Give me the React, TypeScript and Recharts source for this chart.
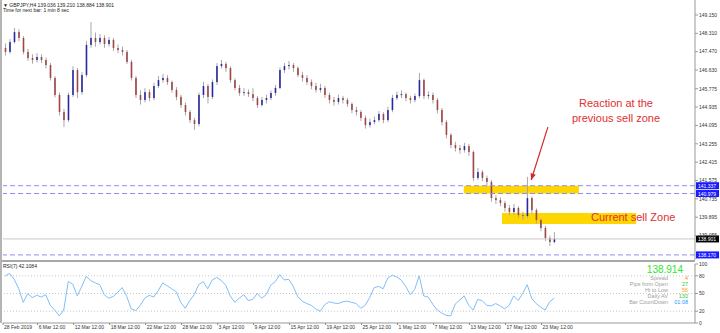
import React from "react";
import {
  ComposedChart,
  LineChart,
  Bar,
  Line,
  XAxis,
  YAxis,
  ReferenceLine,
  ReferenceArea,
} from "recharts";

// GBPJPY, drawn as 12h candles (each one = 3 of the H4 bars)
const opens = [
  147.64, 147.46, 147.91, 148.37, 148.10, 147.46, 147.18, 147.09, 147.23, 147.09,
  146.86, 146.27, 145.49, 144.71, 144.34, 145.49, 146.63, 145.62, 146.40, 147.78,
  148.10, 147.91, 148.10, 147.82, 148.01, 147.64, 147.55, 147.46, 147.00, 146.27,
  145.49, 145.26, 145.62, 145.35, 145.90, 146.17, 146.27, 146.08, 145.72, 145.40,
  145.03, 144.71, 144.34, 144.16, 145.49, 145.90, 145.40, 146.08, 146.81, 146.91,
  146.72, 146.17, 145.81, 145.58, 145.62, 145.53, 145.35, 145.03, 145.26, 145.35,
  145.58, 145.81, 146.63, 146.81, 146.86, 146.72, 146.40, 146.27, 146.08, 145.90,
  145.72, 145.81, 145.49, 145.26, 145.17, 145.35, 145.26, 145.08, 144.80, 144.71,
  144.44, 144.11, 144.25, 144.34, 144.62, 144.34, 144.80, 145.35, 145.49, 145.53,
  145.35, 145.26, 145.44, 146.17, 145.44, 145.49, 145.26, 144.80, 144.25, 143.66,
  143.20, 143.06, 142.97, 143.15, 142.88, 141.69, 141.96, 141.69, 141.51, 140.77,
  140.68, 140.54, 140.32, 140.13, 140.32, 139.99, 139.95, 140.77, 140.22, 139.77,
  139.40, 138.94, 138.76,
];
const highs = [
  147.85, 148.05, 148.55, 148.50, 148.18, 147.60, 147.35, 147.40, 147.35, 147.20,
  146.95, 146.35, 145.60, 144.85, 145.60, 146.80, 146.72, 146.55, 147.95, 148.83,
  148.35, 148.28, 148.22, 148.15, 148.10, 147.80, 147.70, 147.55, 147.10, 146.35,
  145.70, 145.80, 145.75, 146.05, 146.35, 146.45, 146.40, 146.15, 145.85, 145.50,
  145.15, 144.80, 144.45, 145.60, 146.10, 146.00, 146.20, 146.95, 147.10, 147.00,
  146.80, 146.25, 145.95, 145.80, 145.75, 145.80, 145.45, 145.40, 145.50, 145.70,
  145.95, 146.75, 146.95, 147.05, 146.95, 146.80, 146.55, 146.40, 146.20, 146.05,
  146.00, 145.90, 145.60, 145.40, 145.50, 145.45, 145.35, 145.15, 144.95, 144.80,
  144.55, 144.40, 144.50, 144.75, 144.70, 144.95, 145.50, 145.65, 145.70, 145.60,
  145.45, 145.55, 146.50, 146.25, 145.65, 145.60, 145.35, 144.90, 144.35, 143.75,
  143.35, 143.20, 143.30, 143.25, 142.95, 142.15, 142.05, 141.80, 141.60, 140.90,
  140.80, 140.65, 140.45, 140.50, 140.40, 140.15, 141.74, 140.85, 140.30, 139.85,
  139.50, 139.05, 139.21,
];
const lows = [
  147.30, 147.38, 147.85, 147.95, 147.35, 147.05, 146.92, 146.98, 146.95, 146.70,
  146.15, 145.38, 144.55, 144.02, 144.25, 145.40, 145.35, 145.50, 146.30, 147.65,
  147.70, 147.80, 147.65, 147.70, 147.50, 147.40, 147.30, 146.90, 146.15, 145.35,
  145.05, 145.15, 145.20, 145.25, 145.80, 146.05, 145.95, 145.60, 145.25, 144.90,
  144.55, 144.20, 143.89, 144.05, 145.35, 145.10, 145.30, 145.95, 146.70, 146.55,
  146.05, 145.70, 145.45, 145.45, 145.40, 145.20, 144.90, 144.95, 145.10, 145.25,
  145.45, 145.75, 146.50, 146.65, 146.55, 146.30, 146.10, 145.95, 145.75, 145.60,
  145.60, 145.35, 145.10, 145.00, 145.05, 145.10, 144.95, 144.65, 144.55, 144.30,
  143.95, 144.00, 144.15, 144.25, 144.20, 144.25, 144.70, 145.25, 145.35, 145.20,
  145.10, 145.15, 145.35, 145.30, 145.30, 145.10, 144.65, 144.10, 143.50, 143.05,
  142.90, 142.80, 142.85, 142.70, 141.55, 141.60, 141.55, 141.35, 140.60, 140.50,
  140.40, 140.15, 139.98, 140.00, 139.85, 139.77, 139.85, 140.05, 139.60, 139.25,
  138.80, 138.58, 138.70,
];
const closes = [
  147.46, 147.91, 148.37, 148.10, 147.46, 147.18, 147.09, 147.23, 147.09, 146.86,
  146.27, 145.49, 144.71, 144.34, 145.49, 146.63, 145.62, 146.40, 147.78, 148.10,
  147.91, 148.10, 147.82, 148.01, 147.64, 147.55, 147.46, 147.00, 146.27, 145.49,
  145.26, 145.62, 145.35, 145.90, 146.17, 146.27, 146.08, 145.72, 145.40, 145.03,
  144.71, 144.34, 144.16, 145.49, 145.90, 145.40, 146.08, 146.81, 146.91, 146.72,
  146.17, 145.81, 145.58, 145.62, 145.53, 145.35, 145.03, 145.26, 145.35, 145.58,
  145.81, 146.63, 146.81, 146.86, 146.72, 146.40, 146.27, 146.08, 145.90, 145.72,
  145.81, 145.49, 145.26, 145.17, 145.35, 145.26, 145.08, 144.80, 144.71, 144.44,
  144.11, 144.25, 144.34, 144.62, 144.34, 144.80, 145.35, 145.49, 145.53, 145.35,
  145.26, 145.44, 146.17, 145.44, 145.49, 145.26, 144.80, 144.25, 143.66, 143.20,
  143.06, 142.97, 143.15, 142.88, 141.69, 141.96, 141.69, 141.51, 140.77, 140.68,
  140.54, 140.32, 140.13, 140.32, 139.99, 139.95, 140.77, 140.22, 139.77, 139.40,
  138.94, 138.76, 138.90,
];
const rsi = [
  80, 84, 74, 58, 35, 50, 43, 47, 44, 48,
  30, 22, 12, 22, 70, 66, 46, 62, 79, 72,
  68, 65, 48, 42, 45, 52, 60, 45, 24, 21,
  30, 42, 47, 44, 55, 68, 63, 58, 53, 35,
  25, 38, 48, 65, 70, 58, 73, 77, 72, 64,
  46, 35, 42, 48, 38, 40, 50, 42, 48, 64,
  70, 82, 73, 74, 62, 45, 37, 33, 30, 24,
  20, 31, 36, 34, 33, 36, 37, 35, 33, 25,
  30, 43, 60, 62, 58, 76, 81, 78, 73, 62,
  48, 57, 80, 46, 44, 32, 22, 17, 13, 12,
  32, 39, 46, 30, 22, 40, 38, 30, 29, 33,
  29, 24, 30, 46, 38, 50, 65, 42, 33, 27,
  22, 36, 42.1,
];

const priceTicks = [
  149.15, 148.31, 147.47, 146.63, 145.775, 144.935, 144.095, 143.255, 142.415,
  141.575, 140.735, 139.895, 139.055,
];
const timeTicks = [-0.5, 7.2, 15.2, 23.2, 31.2, 39.2, 47.2, 55.2, 63.2, 71.2, 79.2, 87.2, 95.2, 103.2, 111.2, 119.2];
const timeLabels = [
  "28 Feb 2019", "6 Mar 12:00", "12 Mar 12:00", "18 Mar 12:00", "22 Mar 12:00",
  "28 Mar 12:00", "3 Apr 12:00", "9 Apr 12:00", "15 Apr 12:00", "19 Apr 12:00",
  "25 Apr 12:00", "1 May 12:00", "7 May 12:00", "13 May 12:00", "17 May 12:00",
  "23 May 12:00",
];
const rsiTicks = [0, 20, 50, 80, 100];
const rsiLevels = [80, 50, 20];

const levels = [141.337, 140.979, 138.17];
const bid = 138.901;
const oldZone = { x1: 101.9, x2: 127.5, y1: 140.979, y2: 141.337 };
const newZone = { x1: 110.4, x2: 140.2, y1: 139.58, y2: 140.09 };
const arrowFrom = { x: 120.6, y: 144.02 };
const arrowTo = { x: 116.9, y: 141.6 };

const X_DOMAIN: [number, number] = [-0.5, 153.3];
const FONT = "'Liberation Sans', Arial, sans-serif";
const WICK = "#a8a8a8";
const BULL = "#2a2aa0";
const BEAR = "#a04646";
const RED = "#e03030";

const rows = closes.map((c, i) => ({
  t: i,
  open: opens[i],
  high: highs[i],
  low: lows[i],
  close: c,
  range: [lows[i], highs[i]],
  rsi: rsi[i],
}));

const Candle = (props: any) => {
  const { x, y, width, height, payload } = props;
  if (x == null || !payload) return null;
  const top = Math.min(y, y + height);
  const h = Math.abs(height);
  const span = payload.high - payload.low;
  const k = span > 0 ? h / span : 0;
  const cx = x + width / 2;
  const bTop = top + (payload.high - Math.max(payload.open, payload.close)) * k;
  const bBot = top + (payload.high - Math.min(payload.open, payload.close)) * k;
  const up = payload.close >= payload.open;
  return (
    <g>
      <line x1={cx} x2={cx} y1={top} y2={top + h} stroke={WICK} strokeWidth={1} />
      <rect x={cx - 0.8} y={bTop} width={1.6} height={Math.max(1, bBot - bTop)} fill={up ? BULL : BEAR} />
    </g>
  );
};

const PriceTag = ({ viewBox, text, bg }: any) => {
  if (!viewBox) return null;
  const x = viewBox.x + viewBox.width + 1;
  const y = viewBox.y;
  return (
    <g>
      <rect x={x} y={y - 3.5} width={23} height={7} fill={bg} />
      <text x={x + 2} y={y + 2} fontSize={5} fill="#fff" fontFamily={FONT}>
        {text}
      </text>
    </g>
  );
};

const Arrow = (p: any) => {
  const { x1, y1, x2, y2 } = p;
  if (x1 == null) return null;
  const a = Math.atan2(y2 - y1, x2 - x1);
  const L = 7;
  const w = 0.4;
  const pa = `${x2},${y2} ${x2 - L * Math.cos(a - w)},${y2 - L * Math.sin(a - w)} ${x2 - L * Math.cos(a + w)},${y2 - L * Math.sin(a + w)}`;
  return (
    <g>
      <line x1={x1} y1={y1} x2={x2} y2={y2} stroke="#d02a2a" strokeWidth={1.2} />
      <polygon points={pa} fill="#d02a2a" />
    </g>
  );
};

// the RSI chart is 71px tall with its axis line at 61px
const TimeTick = (p: any) => {
  const i = timeTicks.indexOf(p.payload.value);
  return (
    <g>
      <line x1={p.x} x2={p.x} y1={61} y2={63} stroke="#888" />
      <text x={p.x + 1} y={67} fontSize={5} fill="#333" fontFamily={FONT}>
        {timeLabels[i]}
      </text>
    </g>
  );
};

const axisTick = { fontSize: 5, fill: "#333", fontFamily: FONT };

export default function App() {
  return (
    <div style={{ position: "absolute", left: 0, top: 0, width: 720, height: 333, background: "#fff", overflow: "hidden" }}>
      <div style={{ position: "absolute", left: 0, top: 0 }}>
        <ComposedChart width={720} height={260} data={rows} margin={{ top: 0, right: 0, bottom: 0, left: 3 }}>
          <XAxis type="number" dataKey="t" domain={X_DOMAIN} allowDataOverflow hide />
          <YAxis
            orientation="right"
            width={25}
            domain={[137.937, 149.836]}
            allowDataOverflow
            ticks={priceTicks}
            tickFormatter={(v: number) => v.toFixed(3)}
            tick={axisTick}
            tickSize={3}
            tickMargin={1}
            axisLine={{ stroke: "#999" }}
            tickLine={{ stroke: "#999" }}
            interval={0}
          />
          <ReferenceArea {...oldZone} fill="#ffd700" fillOpacity={1} stroke="none" ifOverflow="visible" />
          <ReferenceArea {...newZone} fill="#ffd700" fillOpacity={1} stroke="none" ifOverflow="visible" />
          <ReferenceLine y={bid} stroke="#c8c8c8" label={<PriceTag text={bid.toFixed(3)} bg="#000" />} />
          {levels.map((v) => (
            <ReferenceLine
              key={v}
              y={v}
              stroke="#8c8cff"
              strokeDasharray="5 3"
              label={<PriceTag text={v.toFixed(3)} bg="#1a1aff" />}
            />
          ))}
          <Bar dataKey="range" shape={<Candle />} barSize={3} isAnimationActive={false} />
          <ReferenceLine segment={[arrowFrom, arrowTo]} ifOverflow="visible" shape={(p: any) => <Arrow {...p} />} />
        </ComposedChart>
      </div>
      <div style={{ position: "absolute", left: 0, top: 260, width: 695, height: 2, background: "#a8a8a8" }} />
      <div style={{ position: "absolute", left: 0, top: 262 }}>
        <LineChart width={720} height={71} data={rows} margin={{ top: 2, right: 0, bottom: 0, left: 3 }}>
          <XAxis
            type="number"
            dataKey="t"
            domain={X_DOMAIN}
            allowDataOverflow
            ticks={timeTicks}
            interval={0}
            height={10}
            tick={(p: any) => <TimeTick {...p} />}
            tickLine={false}
            axisLine={{ stroke: "#999" }}
          />
          <YAxis
            orientation="right"
            width={25}
            domain={[0, 100]}
            ticks={rsiTicks}
            interval={0}
            tick={axisTick}
            tickSize={3}
            tickMargin={1}
            axisLine={{ stroke: "#999" }}
            tickLine={{ stroke: "#999" }}
          />
          {rsiLevels.map((v) => (
            <ReferenceLine key={v} y={v} stroke="#c8c8c8" strokeDasharray="1 2" />
          ))}
          <Line type="linear" dataKey="rsi" stroke="#80bdf7" strokeWidth={1} dot={false} isAnimationActive={false} />
        </LineChart>
      </div>
      <div style={{ position: "absolute", left: 0, top: 0, width: 2, height: 323, background: "#b4b4b4" }} />
      <svg width={720} height={333} style={{ position: "absolute", left: 0, top: 0, pointerEvents: "none" }} fontFamily={FONT}>
        <text x={3} y={7} fontSize={5} fill="#222">▼ GBPJPY,H4  139.036 139.210 138.884 138.901</text>
        <text x={3} y={12} fontSize={5} fill="#222">Time for next bar: 1 min 8 sec</text>
        <text x={616} y={106.5} fontSize={11} fill={RED} textAnchor="middle">Reaction at the</text>
        <text x={616} y={121.5} fontSize={11} fill={RED} textAnchor="middle">previous sell zone</text>
        <text x={591} y={221} fontSize={11} fill={RED}>Current sell Zone</text>
        <text x={3} y={268} fontSize={5} fill="#222">RSI(7) 42.1084</text>
        <text x={683} y={273} fontSize={10} fill="#2ee62e" textAnchor="end">138.914</text>
        <text x={668} y={280} fontSize={5.5} fill="#a0a0a0" textAnchor="end">Spread</text>
        <text x={668} y={286} fontSize={5.5} fill="#a0a0a0" textAnchor="end">Pips from Open</text>
        <text x={668} y={292} fontSize={5.5} fill="#a0a0a0" textAnchor="end">Hi to Low</text>
        <text x={668} y={298} fontSize={5.5} fill="#a0a0a0" textAnchor="end">Daily AV</text>
        <text x={668} y={304} fontSize={5.5} fill="#a0a0a0" textAnchor="end">Bar CountDown</text>
        <text x={688} y={280} fontSize={5.5} fill="#ff8c00" textAnchor="end">4</text>
        <text x={688} y={286} fontSize={5.5} fill="#22cc22" textAnchor="end">27</text>
        <text x={688} y={292} fontSize={5.5} fill="#ffa020" textAnchor="end">56</text>
        <text x={688} y={298} fontSize={5.5} fill="#33cc33" textAnchor="end">130</text>
        <text x={688} y={304} fontSize={5.5} fill="#1e9bff" textAnchor="end">01:08</text>
      </svg>
    </div>
  );
}
